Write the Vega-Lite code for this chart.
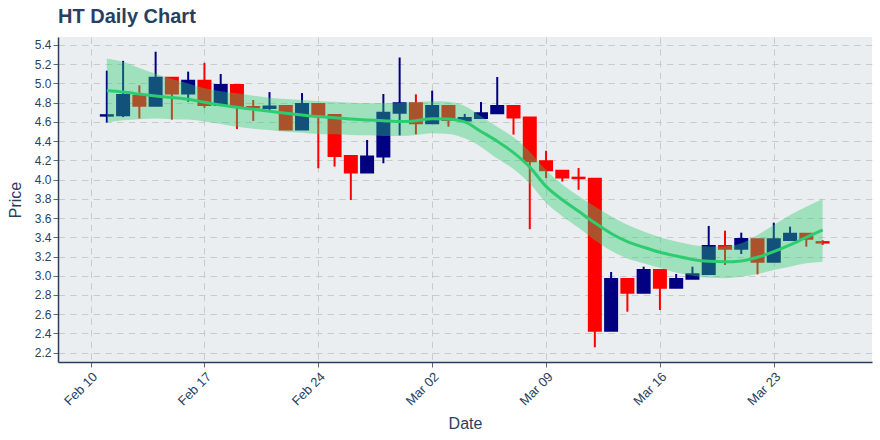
{
  "$schema": "https://vega.github.io/schema/vega-lite/v6.json",
  "width": 814,
  "height": 325,
  "autosize": "none",
  "padding": {"left": 58, "top": 37, "right": 8, "bottom": 78},
  "background": "white",
  "title": {"text": "HT Daily Chart", "anchor": "start", "frame": "group", "font": "Liberation Sans", "fontSize": 20, "fontWeight": "bold", "color": "#2a3f5f", "offset": -6, "baseline": "alphabetic"},
  "config": {
    "view": {"fill": "#ebeef0", "stroke": null},
    "axis": {
      "labelFont": "Liberation Sans", "labelFontSize": 12, "labelColor": "#2a3f5f",
      "titleFont": "Liberation Sans", "titleFontSize": 16, "titleFontWeight": "normal", "titleColor": "#2a3f5f",
      "domainColor": "#2a3f5f", "domainWidth": 1.5, "tickColor": "#5a6b80", "tickSize": 5,
      "gridColor": "#c8cbce", "gridDash": [6.5, 5.2], "gridWidth": 1, "labelOverlap": false
    }
  },
  "data": {"values": [
    {"date": "2020-02-11", "open": 4.665, "high": 5.133, "low": 4.593, "close": 4.67, "lower": 4.593, "mid": 4.926, "upper": 5.26},
    {"date": "2020-02-12", "open": 4.67, "high": 5.235, "low": 4.65, "close": 4.88, "lower": 4.617, "mid": 4.91, "upper": 5.225},
    {"date": "2020-02-13", "open": 4.873, "high": 4.98, "low": 4.635, "close": 4.768, "lower": 4.628, "mid": 4.89, "upper": 5.16},
    {"date": "2020-02-14", "open": 4.768, "high": 5.33, "low": 4.765, "close": 5.06, "lower": 4.635, "mid": 4.87, "upper": 5.10},
    {"date": "2020-02-15", "open": 5.06, "high": 5.06, "low": 4.624, "close": 4.895, "lower": 4.628, "mid": 4.853, "upper": 5.045},
    {"date": "2020-02-16", "open": 4.895, "high": 5.123, "low": 4.81, "close": 5.028, "lower": 4.624, "mid": 4.835, "upper": 5.0},
    {"date": "2020-02-17", "open": 5.028, "high": 5.214, "low": 4.747, "close": 4.775, "lower": 4.605, "mid": 4.805, "upper": 4.95},
    {"date": "2020-02-18", "open": 4.776, "high": 5.098, "low": 4.77, "close": 4.984, "lower": 4.578, "mid": 4.776, "upper": 4.92},
    {"date": "2020-02-19", "open": 4.984, "high": 4.99, "low": 4.527, "close": 4.759, "lower": 4.55, "mid": 4.752, "upper": 4.897},
    {"date": "2020-02-20", "open": 4.755, "high": 4.828, "low": 4.61, "close": 4.75, "lower": 4.53, "mid": 4.731, "upper": 4.873},
    {"date": "2020-02-21", "open": 4.745, "high": 4.91, "low": 4.724, "close": 4.76, "lower": 4.516, "mid": 4.71, "upper": 4.852},
    {"date": "2020-02-22", "open": 4.766, "high": 4.77, "low": 4.52, "close": 4.52, "lower": 4.498, "mid": 4.69, "upper": 4.838},
    {"date": "2020-02-23", "open": 4.52, "high": 4.90, "low": 4.52, "close": 4.787, "lower": 4.488, "mid": 4.672, "upper": 4.828},
    {"date": "2020-02-24", "open": 4.787, "high": 4.79, "low": 4.118, "close": 4.672, "lower": 4.475, "mid": 4.655, "upper": 4.818},
    {"date": "2020-02-25", "open": 4.672, "high": 4.672, "low": 4.135, "close": 4.246, "lower": 4.471, "mid": 4.644, "upper": 4.81},
    {"date": "2020-02-26", "open": 4.246, "high": 4.246, "low": 3.788, "close": 4.073, "lower": 4.464, "mid": 4.63, "upper": 4.80},
    {"date": "2020-02-27", "open": 4.073, "high": 4.412, "low": 4.073, "close": 4.239, "lower": 4.46, "mid": 4.62, "upper": 4.797},
    {"date": "2020-02-28", "open": 4.239, "high": 4.89, "low": 4.17, "close": 4.696, "lower": 4.454, "mid": 4.613, "upper": 4.794},
    {"date": "2020-02-29", "open": 4.696, "high": 5.27, "low": 4.46, "close": 4.794, "lower": 4.454, "mid": 4.603, "upper": 4.797},
    {"date": "2020-03-01", "open": 4.794, "high": 4.887, "low": 4.471, "close": 4.586, "lower": 4.464, "mid": 4.613, "upper": 4.807},
    {"date": "2020-03-02", "open": 4.586, "high": 4.925, "low": 4.58, "close": 4.766, "lower": 4.482, "mid": 4.634, "upper": 4.814},
    {"date": "2020-03-03", "open": 4.766, "high": 4.77, "low": 4.55, "close": 4.62, "lower": 4.475, "mid": 4.63, "upper": 4.81},
    {"date": "2020-03-04", "open": 4.615, "high": 4.683, "low": 4.60, "close": 4.641, "lower": 4.429, "mid": 4.6, "upper": 4.766},
    {"date": "2020-03-05", "open": 4.641, "high": 4.807, "low": 4.641, "close": 4.69, "lower": 4.34, "mid": 4.50, "upper": 4.66},
    {"date": "2020-03-06", "open": 4.69, "high": 5.067, "low": 4.69, "close": 4.766, "lower": 4.22, "mid": 4.40, "upper": 4.55},
    {"date": "2020-03-07", "open": 4.766, "high": 4.77, "low": 4.468, "close": 4.645, "lower": 4.11, "mid": 4.28, "upper": 4.44},
    {"date": "2020-03-08", "open": 4.645, "high": 4.645, "low": 3.484, "close": 4.19, "lower": 3.96, "mid": 4.13, "upper": 4.29},
    {"date": "2020-03-09", "open": 4.19, "high": 4.30, "low": 4.016, "close": 4.096, "lower": 3.76, "mid": 3.93, "upper": 4.10},
    {"date": "2020-03-10", "open": 4.092, "high": 4.092, "low": 3.98, "close": 4.023, "lower": 3.62, "mid": 3.79, "upper": 3.95},
    {"date": "2020-03-11", "open": 4.02, "high": 4.12, "low": 3.894, "close": 4.014, "lower": 3.50, "mid": 3.67, "upper": 3.83},
    {"date": "2020-03-12", "open": 4.009, "high": 4.009, "low": 2.256, "close": 2.429, "lower": 3.37, "mid": 3.55, "upper": 3.72},
    {"date": "2020-03-13", "open": 2.429, "high": 3.039, "low": 2.429, "close": 2.966, "lower": 3.26, "mid": 3.44, "upper": 3.62},
    {"date": "2020-03-14", "open": 2.966, "high": 2.966, "low": 2.626, "close": 2.824, "lower": 3.18, "mid": 3.355, "upper": 3.53},
    {"date": "2020-03-15", "open": 2.824, "high": 3.094, "low": 2.824, "close": 3.06, "lower": 3.13, "mid": 3.296, "upper": 3.46},
    {"date": "2020-03-16", "open": 3.06, "high": 3.06, "low": 2.644, "close": 2.876, "lower": 3.08, "mid": 3.244, "upper": 3.40},
    {"date": "2020-03-17", "open": 2.876, "high": 3.018, "low": 2.876, "close": 2.966, "lower": 3.03, "mid": 3.205, "upper": 3.355},
    {"date": "2020-03-18", "open": 2.97, "high": 3.094, "low": 2.97, "close": 3.015, "lower": 3.0, "mid": 3.17, "upper": 3.32},
    {"date": "2020-03-19", "open": 3.018, "high": 3.518, "low": 3.018, "close": 3.309, "lower": 2.98, "mid": 3.15, "upper": 3.305},
    {"date": "2020-03-20", "open": 3.309, "high": 3.469, "low": 3.112, "close": 3.282, "lower": 2.975, "mid": 3.145, "upper": 3.305},
    {"date": "2020-03-21", "open": 3.282, "high": 3.448, "low": 3.226, "close": 3.382, "lower": 2.99, "mid": 3.154, "upper": 3.337},
    {"date": "2020-03-22", "open": 3.379, "high": 3.38, "low": 3.015, "close": 3.146, "lower": 3.018, "mid": 3.192, "upper": 3.424},
    {"date": "2020-03-23", "open": 3.146, "high": 3.552, "low": 3.146, "close": 3.379, "lower": 3.06, "mid": 3.25, "upper": 3.528},
    {"date": "2020-03-24", "open": 3.372, "high": 3.511, "low": 3.372, "close": 3.438, "lower": 3.094, "mid": 3.32, "upper": 3.632},
    {"date": "2020-03-25", "open": 3.438, "high": 3.438, "low": 3.302, "close": 3.386, "lower": 3.129, "mid": 3.40, "upper": 3.718},
    {"date": "2020-03-26", "open": 3.35, "high": 3.37, "low": 3.32, "close": 3.345, "lower": 3.146, "mid": 3.476, "upper": 3.798}
  ]},
  "encoding": {
    "x": {
      "field": "date", "type": "temporal",
      "scale": {"type": "utc", "domain": [1581146438400, 1585416672000]},
      "axis": {
        "title": "Date", "titleY": 66, "titleBaseline": "alphabetic",
        "values": [1581292800000, 1581897600000, 1582502400000, 1583107200000, 1583712000000, 1584316800000, 1584921600000],
        "format": "%b %d", "labelAngle": -45, "labelPadding": 3, "labelFontSize": 13, "grid": true
      }
    }
  },
  "layer": [
    {
      "mark": {"type": "rule", "strokeWidth": 2},
      "encoding": {
        "y": {
          "field": "low", "type": "quantitative",
          "scale": {"domain": [2.103, 5.483], "nice": false, "zero": false},
          "axis": {
            "title": "Price", "titleX": -38, "titleY": 162.5, "titleBaseline": "alphabetic",
            "values": [2.2, 2.4, 2.6, 2.8, 3.0, 3.2, 3.4, 3.6, 3.8, 4.0, 4.2, 4.4, 4.6, 4.8, 5.0, 5.2, 5.4],
            "format": ".1f", "labelPadding": 2, "grid": true, "labelOverlap": false, "labelSeparation": 0, "tickCount": 17
          }
        },
        "y2": {"field": "high"},
        "color": {"condition": {"test": "datum.close >= datum.open", "value": "#000080"}, "value": "#ff0000"}
      }
    },
    {
      "mark": {"type": "bar", "size": 12, "strokeWidth": 2},
      "encoding": {
        "y": {"field": "open", "type": "quantitative"},
        "y2": {"field": "close"},
        "color": {"condition": {"test": "datum.close >= datum.open", "value": "#000080"}, "value": "#ff0000"},
        "stroke": {"condition": {"test": "datum.close >= datum.open", "value": "#000080"}, "value": "#ff0000"}
      }
    },
    {
      "mark": {"type": "area", "color": "#2ecc71", "opacity": 0.4, "interpolate": "monotone"},
      "encoding": {
        "y": {"field": "lower", "type": "quantitative"},
        "y2": {"field": "upper"}
      }
    },
    {
      "mark": {"type": "line", "color": "#2ecc71", "strokeWidth": 3, "interpolate": "monotone"},
      "encoding": {
        "y": {"field": "mid", "type": "quantitative"}
      }
    }
  ]
}
